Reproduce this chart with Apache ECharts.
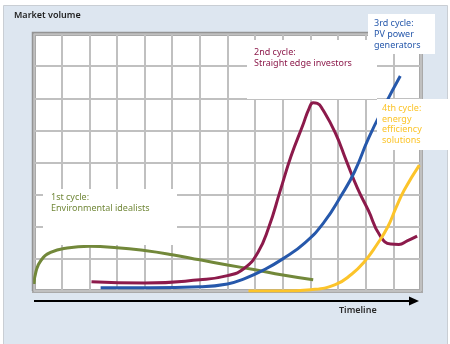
<!DOCTYPE html>
<html>
<head>
<meta charset="utf-8">
<script src="https://cdn.jsdelivr.net/npm/echarts@6/dist/echarts.min.js"></script>
<style>
  html, body { margin: 0; padding: 0; background: #fff; }
  #chart { width: 450px; height: 344px; }
</style>
</head>
<body>
<div id="chart"></div>
<script>
// Timeline runs over 14 grid columns, market volume over 8 grid rows.
const timelineSteps = 14;
const volumeSteps = 8;

// [timeline, market volume] for each adoption cycle
const cycle1Environmental = [
  [0, 0.22], [0.07, 0.6], [0.25, 0.95], [0.6, 1.2], [1.2, 1.34],
  [2.0, 1.39], [3.0, 1.35], [4.0, 1.26], [5.0, 1.13], [6.0, 0.97], [7.0, 0.81],
  [8.0, 0.66], [9.0, 0.5], [10.1, 0.35]
];
const cycle2Investors = [
  [2.08, 0.29], [4.0, 0.25], [6.0, 0.35], [7.0, 0.48], [7.6, 0.7],
  [8.1, 1.2], [8.5, 2.0], [8.9, 3.1], [9.3, 4.2], [9.72, 5.15],
  [9.95, 5.68], [10.1, 5.86], [10.25, 5.84], [10.45, 5.64], [10.9, 4.92],
  [11.3, 4.05], [11.7, 3.2], [12.1, 2.5], [12.5, 1.75], [12.9, 1.46],
  [13.2, 1.45], [13.5, 1.56], [13.86, 1.71]
];
const cycle3PvGenerators = [
  [2.41, 0.1], [4.2, 0.1], [6.0, 0.13], [7.0, 0.22], [7.6, 0.38], [8.3, 0.65],
  [9.0, 1.0], [9.8, 1.5], [10.5, 2.15], [11.1, 2.95], [11.6, 3.72],
  [12.1, 4.75], [12.7, 5.8], [13.25, 6.69]
];
const cycle4Efficiency = [
  [7.76, 0], [9.0, 0], [10.0, 0.04], [10.9, 0.2], [11.5, 0.53], [11.95, 0.91],
  [12.4, 1.44], [12.8, 2.0], [13.1, 2.6], [13.4, 3.15], [13.94, 3.92]
];

const cycleNames = [
  ['1st cycle:', 'Environmental idealists'],
  ['2nd cycle:', 'Straight edge investors'],
  ['3rd cycle:', 'PV power', 'generators'],
  ['4th cycle:', 'energy', 'efficiency', 'solutions']
];
const axisTitles = { y: 'Market volume', x: 'Timeline' };

const colors = ['#72883a', '#8c1a4b', '#2658ab', '#fcc42a'];
const font = 'Noto Sans';

const chart = echarts.init(document.getElementById('chart'), null, { renderer: 'canvas' });

function lineSeries(name, data, color) {
  return {
    name, type: 'line', data, showSymbol: false, symbol: 'none',
    smooth: 0.5,
    lineStyle: { color, width: 3 }, z: 3, silent: true
  };
}

function labelBox(x, y, w, h, lines, color, size, lineH, padX, padY) {
  return {
    type: 'group', left: x, top: y, z: 50,
    children: [
      { type: 'rect', shape: { x: 0, y: 0, width: w, height: h }, style: { fill: '#fff' }, z: 50 },
      { type: 'text', x: padX, y: padY, z: 51,
        style: { text: lines.join('\n'), fill: color, font: size + 'px "' + font + '"', lineHeight: lineH } }
    ]
  };
}

const option = {
  backgroundColor: '#fff',
  animation: false,
  grid: {
    left: 34, top: 34, width: 387, height: 257,
    show: true, backgroundColor: '#fff', borderColor: '#a9a9a9', borderWidth: 4,
    containLabel: false
  },
  xAxis: {
    type: 'value', min: 0, max: timelineSteps, interval: 1,
    axisLine: { show: false }, axisTick: { show: false }, axisLabel: { show: false },
    splitLine: { show: true, lineStyle: { color: '#c0c0c0', width: 2 } }
  },
  yAxis: {
    type: 'value', min: 0, max: volumeSteps, interval: 1,
    axisLine: { show: false }, axisTick: { show: false }, axisLabel: { show: false },
    splitLine: { show: true, lineStyle: { color: '#c0c0c0', width: 2 } }
  },
  series: [
    lineSeries('1st cycle', cycle1Environmental, colors[0]),
    lineSeries('2nd cycle', cycle2Investors, colors[1]),
    lineSeries('3rd cycle', cycle3PvGenerators, colors[2]),
    lineSeries('4th cycle', cycle4Efficiency, colors[3])
  ],
  graphic: [
    // panel behind the plot
    { type: 'rect', z: -100, silent: true,
      shape: { x: 3.5, y: 5.5, width: 444, height: 345 },
      style: { fill: '#dde6f0', stroke: '#c9ced4', lineWidth: 1 } },
    // darker top/left edge of the plot frame
    { type: 'polyline', z: 40, silent: true,
      shape: { points: [[32.5, 291], [32.5, 32.5], [421, 32.5]] },
      style: { stroke: '#949494', lineWidth: 1.5, fill: null } },
    { type: 'text', left: 14, top: 11, z: 60,
      style: { text: axisTitles.y, fill: '#1e1e1e', font: '600 9px "' + font + '"' } },
    { type: 'text', left: 339, top: 306, z: 60,
      style: { text: axisTitles.x, fill: '#2a2a2a', font: '600 9px "' + font + '"' } },
    // timeline arrow
    { type: 'line', z: 60, silent: true,
      shape: { x1: 34, y1: 301, x2: 411, y2: 301 },
      style: { stroke: '#000', lineWidth: 2 } },
    { type: 'polygon', z: 60, silent: true,
      shape: { points: [[419, 301], [409, 296.5], [409, 305.5]] },
      style: { fill: '#000' } },
    labelBox(43, 189, 134, 56, cycleNames[0], colors[0], 9, 11, 8, 3),
    labelBox(247, 40, 130, 59, cycleNames[1], colors[1], 9, 11, 7, 7),
    labelBox(368, 14, 67, 40, cycleNames[2], colors[2], 9, 11, 6, 4),
    labelBox(377, 99, 72, 51, cycleNames[3], colors[3], 9, 10.7, 5, 4)
  ]
};

chart.setOption(option);
</script>
</body>
</html>
